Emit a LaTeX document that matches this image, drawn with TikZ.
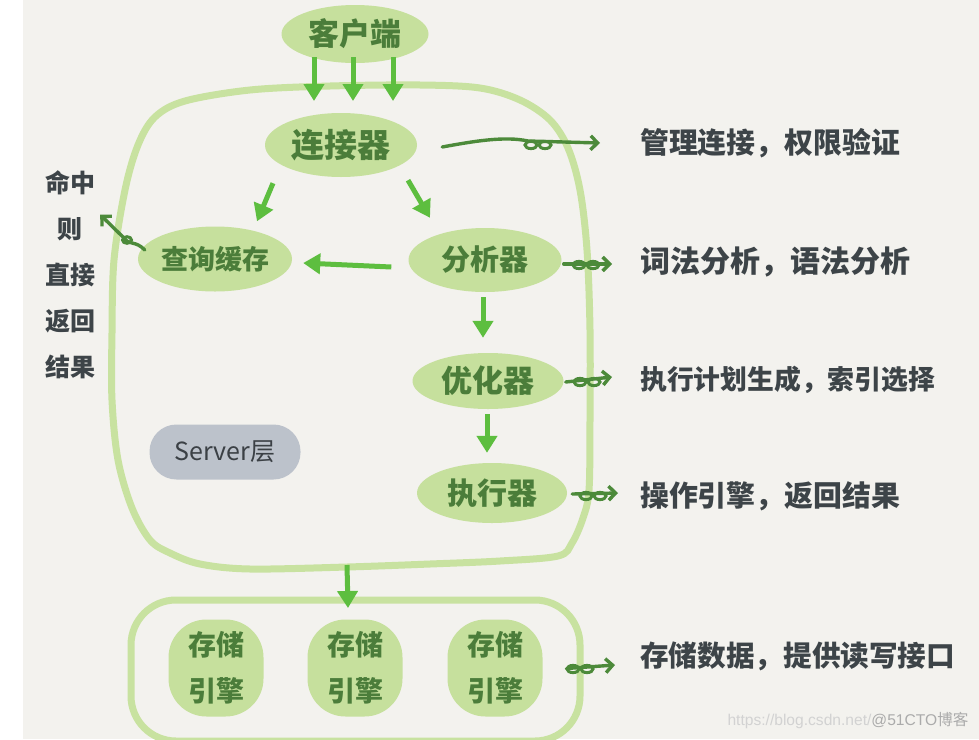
\documentclass[tikz,border=0pt]{standalone}
\usepackage{fontspec}
\usepackage{graphicx}
\setmainfont{Noto Sans CJK SC}
\newfontfamily\wmfont{Liberation Sans}
\usetikzlibrary{arrows.meta,shapes.geometric,calc}
\definecolor{bgc}{HTML}{F3F2EE}
\definecolor{blobfill}{HTML}{C6E09D}
\definecolor{boxline}{HTML}{C8E2A0}
\definecolor{flow}{HTML}{5DBE3F}
\definecolor{blobtext}{HTML}{4B7D3A}
\definecolor{anno}{HTML}{4C8A3A}
\definecolor{notetext}{HTML}{3D4448}
\definecolor{servfill}{HTML}{BCC2CB}
\definecolor{servtext}{HTML}{3B4045}
\begin{document}
\begin{tikzpicture}[x=1pt,y=-1pt,
  blob/.style={ellipse, fill=blobfill, text=blobtext, inner sep=0pt},
  eng/.style={rectangle, rounded corners=38pt, fill=blobfill, text=blobtext,
    minimum width=95pt, minimum height=97pt, inner sep=0pt, align=center,
    font=\fontsize{28}{46}\selectfont\bfseries},
  note/.style={anchor=west, text=notetext, inner sep=0pt, font=\bfseries},
  flowarrow/.style={draw=flow, line width=5pt, -{Triangle[length=17pt,width=20pt]}},
  annoarrow/.style={draw=anno, line width=3.4pt, line cap=round, line join=round,
    -{Straight Barb[length=7pt,width=14pt]}},
  curl/.style={draw=anno, line width=3pt},
  layerbox/.style={draw=boxline, line width=7pt},
  curls/.pic={\draw[curl] (-7,2) ellipse[x radius=6pt,y radius=3.6pt]
                          (7,2) ellipse[x radius=6pt,y radius=3.6pt];}
]
\useasboundingbox (0,0) rectangle (979,739);
\fill[white] (0,0) rectangle (979,739);
\fill[bgc] (23,0) rectangle (979,739);
\begin{scope}
\clip (0,0) rectangle (979,739);

% server layer frame
\draw[layerbox] plot[smooth cycle, tension=0.55] coordinates {
  (250,90) (330,86) (420,85) (480,88) (520,100) (550,120) (568,148) (580,190)
  (587,250) (590,330) (590,420) (589,490) (583,518) (572,543) (558,556)
  (500,561) (430,564) (347,567) (250,569) (200,564) (170,553) (150,540)
  (132,508) (118,460) (112,400) (112,333) (114,260) (125,190) (138,145)
  (155,117) (185,101)};

% storage layer frame
\node[layerbox, rectangle, rounded corners=45pt, minimum width=449pt,
  minimum height=141pt, inner sep=0pt] (storage) at (355.5,670.5) {};
\end{scope}

% nodes
\node[blob, minimum width=147pt, minimum height=58pt, font=\fontsize{31}{31}\selectfont\bfseries] (client) at (355,34) {客户端};
\node[blob, minimum width=152pt, minimum height=64pt, font=\fontsize{33}{33}\selectfont\bfseries] (conn) at (341,145) {连接器};
\node[blob, minimum width=154pt, minimum height=65pt, font=\fontsize{27}{27}\selectfont\bfseries] (cache) at (215,259) {查询缓存};
\node[blob, minimum width=153pt, minimum height=64pt, font=\fontsize{29}{29}\selectfont\bfseries] (analyzer) at (485,260) {分析器};
\node[blob, minimum width=151pt, minimum height=56pt, font=\fontsize{31}{31}\selectfont\bfseries] (optimizer) at (488,381) {优化器};
\node[blob, minimum width=150pt, minimum height=60pt, font=\fontsize{30}{30}\selectfont\bfseries] (executor) at (492,493) {执行器};
\node[rectangle, rounded corners=27pt, fill=servfill, text=servtext, minimum width=151pt,
  minimum height=55pt, inner sep=0pt, font=\fontsize{25}{25}\selectfont] (server) at (225,452) {Server层};

\node[eng] (eng1) at (216,668) {存储\\引擎};
\node[eng] (eng2) at (355,668) {存储\\引擎};
\node[eng] (eng3) at (495,668) {存储\\引擎};

% notes
\node[note] (n1) at (640,143) {\resizebox{260pt}{!}{管理连接，权限验证}};
\node[note] (n2) at (640,262) {\resizebox{270pt}{!}{词法分析，语法分析}};
\node[note] (n3) at (640,380) {\resizebox{295pt}{!}{执行计划生成，索引选择}};
\node[note] (n4) at (640,496) {\resizebox{260pt}{!}{操作引擎，返回结果}};
\node[note] (n5) at (640,656) {\resizebox{315pt}{!}{存储数据，提供读写接口}};
\node[text=notetext, align=center, inner sep=0pt, font=\fontsize{25}{46}\selectfont\bfseries] (hit) at (70,275) {命中\\则\\直接\\返回\\结果};

\node[inner sep=0pt] (wm) at (848,720) {\resizebox{241pt}{!}{\textcolor[HTML]{D2D2D2}{\wmfont https://blog.csdn.net/}\textcolor[HTML]{ABABAB}{{\wmfont @51CTO}博客}}};

% coordinates for flow arrows
\coordinate (s1) at (314,101);
\coordinate (s2) at (353,101);
\coordinate (s3) at (393,101);
\coordinate (sv) at (347,565);
\coordinate (st) at (348,608);

% flow arrows
\draw[flowarrow] ([xshift=-41pt,yshift=6pt]client.south) -- (s1);
\draw[flowarrow] ([xshift=-2pt,yshift=6pt]client.south) -- (s2);
\draw[flowarrow] ([xshift=38pt,yshift=6pt]client.south) -- (s3);
\draw[flowarrow] ($(conn.south)+(-68,6)$) -- ($(cache.north)+(42,-5)$);
\draw[flowarrow] ($(conn.south)+(67,3)$) -- ($(analyzer.north)+(-55,-10)$);
\draw[flowarrow] ($(analyzer.west)+(-17,7)$) -- ($(cache.east)+(11,4)$);
\draw[flowarrow] ($(analyzer.south)+(-2,5)$) -- ($(optimizer.north)+(-5,-15)$);
\draw[flowarrow] ($(optimizer.south)+(-1,5)$) -- ($(executor.north)+(-5,-10)$);
\draw[flowarrow] (sv) -- (st);

% annotation arrows
\draw[annoarrow] ($(conn.east)+(25,2)$) .. controls (475,141) and (505,136) .. (528,141) -- ($(n1.west)+(-40,0)$);
\pic at (538,143) {curls};
\draw[annoarrow] ($(analyzer.east)+(2,4)$) -- ($(n2.west)+(-28,2)$);
\pic at (586,263) {curls};
\draw[annoarrow] ($(optimizer.east)+(2,1)$) -- ($(n3.west)+(-28,-3)$);
\pic at (587,380) {curls};
\draw[annoarrow] ($(executor.east)+(5,1)$) -- ($(n4.west)+(-22,-3)$);
\pic at (593,494) {curls};
\draw[annoarrow] ($(storage.east)+(-17,-2)$) -- ($(n5.west)+(-25,9)$);
\pic at (580,667) {curls};
\draw[annoarrow] ($(cache.west)+(7,-9)$) .. controls (135,240) and (130,246) .. (124,238) -- ($(hit.north east)+(5,44)$);
\draw[curl] (127,240) ellipse[x radius=4.5pt,y radius=3.3pt];
\end{tikzpicture}
\end{document}
